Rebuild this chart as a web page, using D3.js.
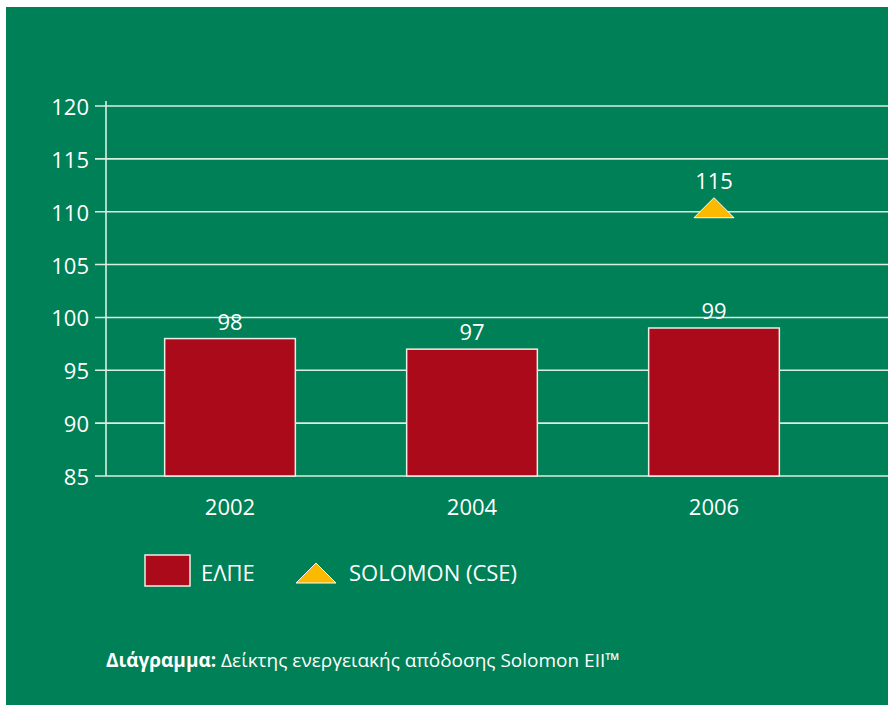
<!DOCTYPE html>
<html>
<head>
<meta charset="utf-8">
<script src="https://cdn.jsdelivr.net/npm/d3@7"></script>
<style>
  body { margin: 0; background: #fff; }
  svg text { font-family: "Open Sans", "Noto Sans", sans-serif; fill: #fff; }
</style>
</head>
<body>
<div id="chart"></div>
<script>
// data
const years = ["2002", "2004", "2006"];
const elpeValues = [98, 97, 99];
const solomonYears = ["2006"];
const solomonLevel = [110];     // where the marker sits in the picture
const solomonLabels = ["115"];  // what it says above it
const yTicks = [85, 90, 95, 100, 105, 110, 115, 120];

const green = "#008056";
const red = "#aa0a19";
const yellow = "#fbb900";
const grid = "#d9efe2";

const svg = d3.select("#chart")
  .append("svg")
  .attr("width", 888)
  .attr("height", 705);

svg.append("rect")
  .attr("x", 6).attr("y", 7)
  .attr("width", 882).attr("height", 698)
  .attr("fill", green);

const y = d3.scaleLinear().domain([85, 120]).range([476, 106]);
const x = d3.scaleBand().domain(years).range([109, 835])
  .paddingInner(0.46).paddingOuter(0.23);

// gridlines + ticks
svg.selectAll(".grid")
  .data(yTicks)
  .enter().append("line")
  .attr("x1", 95).attr("x2", 888)
  .attr("y1", d => y(d)).attr("y2", d => y(d))
  .attr("stroke", grid).attr("stroke-width", 1.6);

svg.append("line")
  .attr("x1", 106).attr("x2", 106)
  .attr("y1", y(120) - 5).attr("y2", y(85))
  .attr("stroke", grid).attr("stroke-width", 1.6);

svg.selectAll(".ylab")
  .data(yTicks)
  .enter().append("text")
  .attr("x", 89)
  .attr("y", d => y(d) + 9)
  .attr("text-anchor", "end")
  .attr("font-size", 22)
  .text(d => d);

// bars
svg.selectAll(".bar")
  .data(elpeValues)
  .enter().append("rect")
  .attr("x", (d, i) => x(years[i]))
  .attr("y", d => y(d))
  .attr("width", x.bandwidth())
  .attr("height", d => y(85) - y(d))
  .attr("fill", red)
  .attr("stroke", "#e8efe9").attr("stroke-width", 1.5);

svg.selectAll(".val")
  .data(elpeValues)
  .enter().append("text")
  .attr("x", (d, i) => x(years[i]) + x.bandwidth() / 2)
  .attr("y", d => y(d) - 9)
  .attr("text-anchor", "middle")
  .attr("font-size", 22)
  .text(d => d);

svg.selectAll(".xlab")
  .data(years)
  .enter().append("text")
  .attr("x", d => x(d) + x.bandwidth() / 2)
  .attr("y", 515)
  .attr("text-anchor", "middle")
  .attr("font-size", 22)
  .text(d => d);

// solomon marker
solomonYears.forEach((yr, i) => {
  const cx = x(yr) + x.bandwidth() / 2;
  svg.append("path")
    .attr("d", "M0,-10L20,10L-20,10Z")
    .attr("transform", `translate(${cx},${y(solomonLevel[i]) - 4})`)
    .attr("fill", yellow)
    .attr("stroke", "#fff").attr("stroke-width", 1);
  svg.append("text")
    .attr("x", cx)
    .attr("y", y(solomonLevel[i]) - 23)
    .attr("text-anchor", "middle")
    .attr("font-size", 22)
    .text(solomonLabels[i]);
});

// legend
const legend = svg.append("g");
legend.append("rect")
  .attr("x", 145).attr("y", 555)
  .attr("width", 45).attr("height", 31)
  .attr("fill", red)
  .attr("stroke", "#e8efe9").attr("stroke-width", 1.5);
legend.append("text")
  .attr("x", 201).attr("y", 581)
  .attr("font-size", 22)
  .text("ΕΛΠΕ");
legend.append("path")
  .attr("d", "M0,-10L20,10L-20,10Z")
  .attr("transform", "translate(316,573)")
  .attr("fill", yellow)
  .attr("stroke", "#fff").attr("stroke-width", 1);
legend.append("text")
  .attr("x", 349).attr("y", 581)
  .attr("font-size", 22)
  .text("SOLOMON (CSE)");

// caption
const cap = svg.append("text")
  .attr("x", 106).attr("y", 667)
  .attr("font-size", 19);
cap.append("tspan").attr("font-weight", "bold").text("Διάγραμμα:");
cap.append("tspan").text(" Δείκτης ενεργειακής απόδοσης Solomon EII™");
</script>
</body>
</html>
